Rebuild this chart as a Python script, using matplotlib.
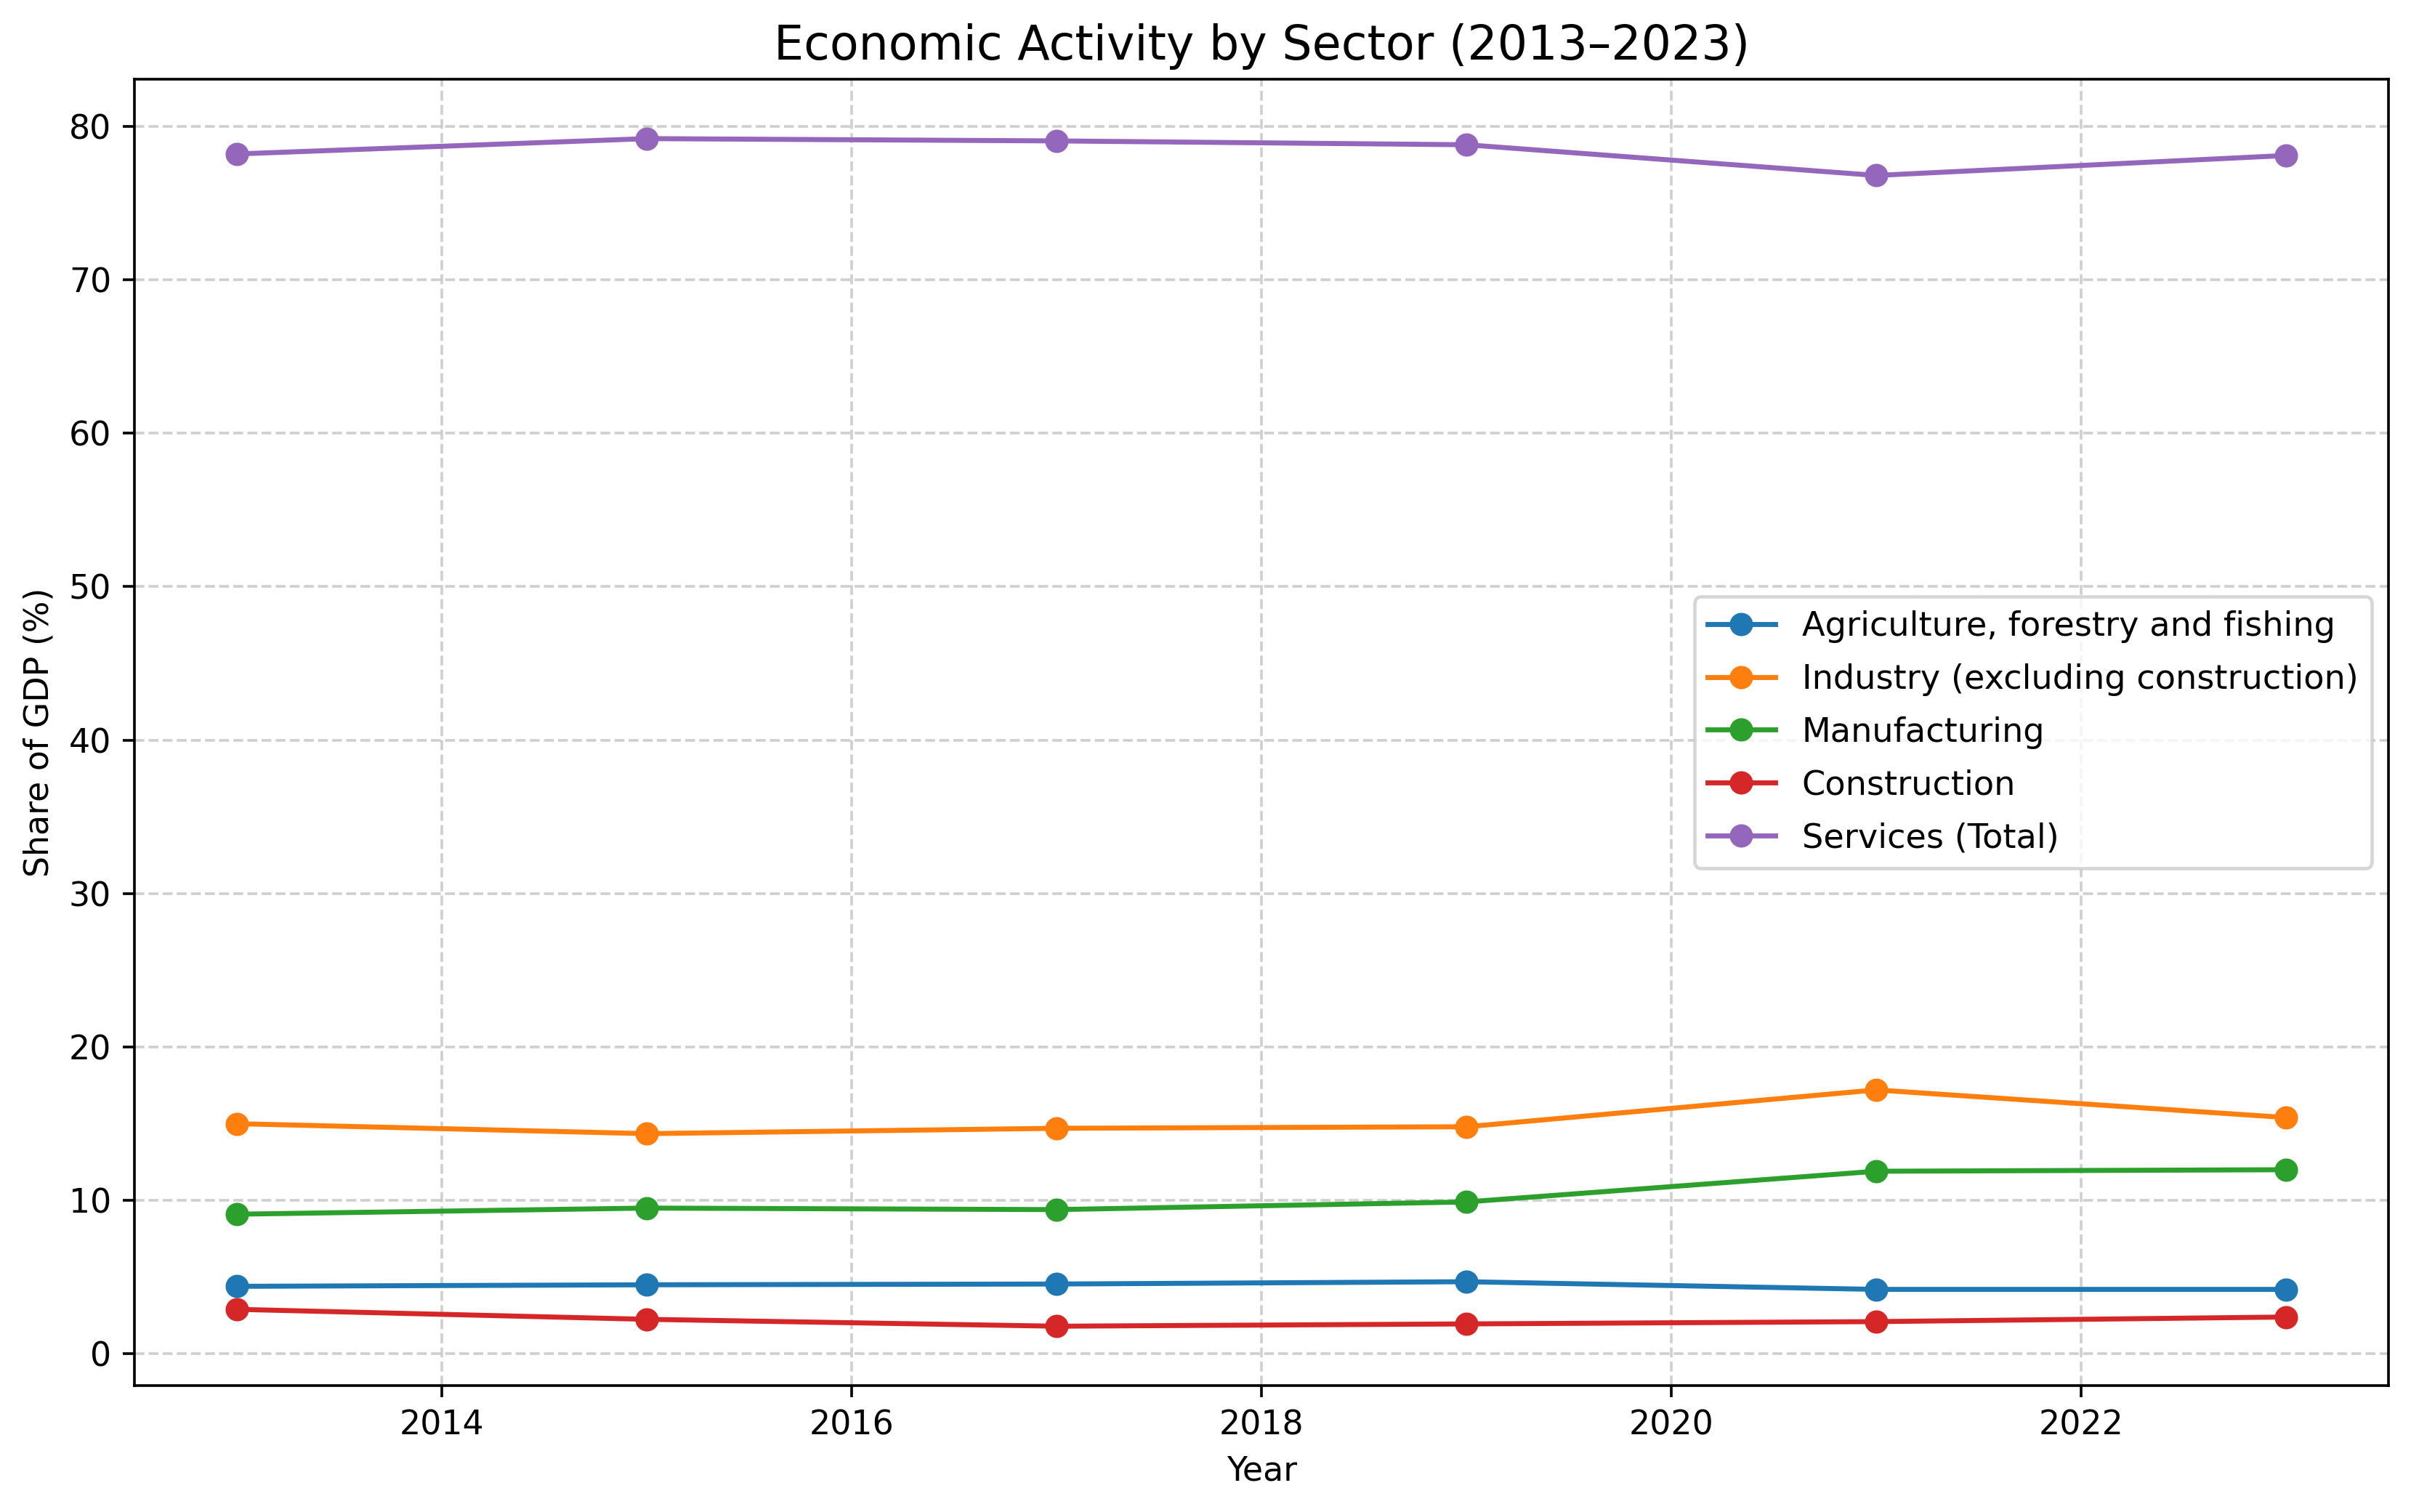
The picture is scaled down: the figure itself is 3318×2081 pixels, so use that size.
import matplotlib
matplotlib.use("Agg")
import matplotlib.pyplot as plt

years = [2013, 2015, 2017, 2019, 2021, 2023]

agriculture = [4.4, 4.5, 4.55, 4.7, 4.2, 4.2]
industry = [15.0, 14.35, 14.7, 14.8, 17.2, 15.4]
manufacturing = [9.1, 9.5, 9.4, 9.9, 11.9, 12.0]
construction = [2.9, 2.25, 1.8, 1.95, 2.1, 2.4]
services = [78.2, 79.2, 79.05, 78.8, 76.8, 78.1]

labels = [
    "Agriculture, forestry and fishing",
    "Industry (excluding construction)",
    "Manufacturing",
    "Construction",
    "Services (Total)",
]

dpi = 330
fig, ax = plt.subplots(figsize=(3318 / dpi, 2081 / dpi), dpi=dpi)
fig.subplots_adjust(left=0.0558, right=0.9907, bottom=0.0836, top=0.9476)

for vals, lab in zip(
    [agriculture, industry, manufacturing, construction, services], labels
):
    ax.plot(years, vals, marker="o", label=lab)

ax.set_title("Economic Activity by Sector (2013\u20132023)", fontsize=14.2)
ax.set_xlabel("Year")
ax.set_ylabel("Share of GDP (%)")
ax.grid(True, linestyle="--", alpha=0.6)
ax.legend(loc="center right", fontsize=10.1, labelspacing=0.6)

fig.savefig("out.png", dpi=dpi)
